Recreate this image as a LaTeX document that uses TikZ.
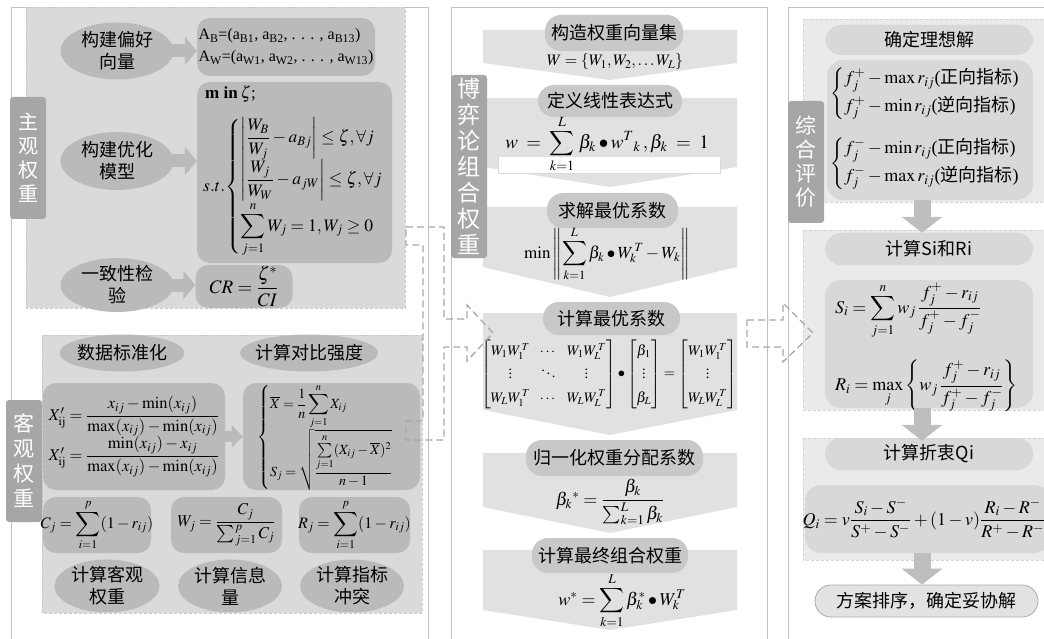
\documentclass[tikz,border=0pt]{standalone}
\usepackage{amsmath}
\usepackage{mathptmx}
\usepackage{fontspec}
\setmainfont{Liberation Serif}
\newfontfamily\cjk{Noto Sans CJK SC}
\usetikzlibrary{shapes.geometric,arrows.meta,calc}
% scalable extension font so that display operators grow
\DeclareSymbolFont{largesymbols}{OMX}{lmex}{m}{n}
\let\sum\relax
\DeclareMathSymbol{\sum}{\mathop}{largesymbols}{"50}

\definecolor{frameC}{RGB}{192,192,192}
\definecolor{regL}{RGB}{218,218,218}
\definecolor{regLb}{RGB}{200,200,200}
\definecolor{regR}{RGB}{234,234,234}
\definecolor{regRb}{RGB}{212,212,212}
\definecolor{shp}{RGB}{186,186,186}
\definecolor{lab}{RGB}{166,166,166}
\definecolor{chev}{RGB}{225,225,225}
\definecolor{pillM}{RGB}{200,200,200}
\definecolor{pillR}{RGB}{216,216,216}
\definecolor{varr}{RGB}{190,190,190}
\definecolor{endF}{RGB}{226,226,226}
\definecolor{endB}{RGB}{170,170,170}
\definecolor{dashc}{RGB}{168,168,168}

\newcommand\fsz[2]{\fontsize{#1}{#2}\selectfont}

\begin{document}
\begin{tikzpicture}[x=1pt,y=-1pt,
  panel/.style={draw=frameC, line width=0.8pt},
  regionA/.style={fill=regL, draw=regLb, dash pattern=on 3pt off 2pt, line width=0.6pt},
  regionB/.style={fill=regR, draw=regRb, dash pattern=on 3pt off 2pt, line width=0.6pt},
  vlabel/.style={fill=lab, rounded corners=3pt, text=white, align=center, inner sep=0pt, minimum width=36pt},
  ell/.style={ellipse, fill=shp, inner sep=0pt},
  cjktxt/.style={font=\cjk\fsz{18}{22}, align=center, inner sep=0pt},
  fbox/.style={fill=shp, rounded corners=13pt, inner sep=0pt},
  harrow/.style={draw=shp, line width=13pt, -{Triangle[width=28pt,length=12pt]}},
  harrowS/.style={draw=shp, line width=11pt, -{Triangle[width=22pt,length=11pt]}},
  varrow/.style={draw=varr, line width=17pt, -{Triangle[width=40pt,length=16pt]}},
  chevron/.style={fill=chev},
  mpill/.style={fill=pillM, rounded corners=16pt, inner sep=0pt, font=\cjk\fsz{18}{22}},
  rpill/.style={fill=pillR, rounded corners=16pt, inner sep=0pt, font=\cjk\fsz{18}{22}},
  rbox/.style={fill=pillR, rounded corners=16pt, inner sep=0pt},
  mth/.style={inner sep=0pt, align=center},
  link/.style={draw=dashc, line width=1.3pt, dash pattern=on 7pt off 4pt},
]
\useasboundingbox (0,0) rectangle (1044,639);

% ---------- panel frames ----------
\draw[panel] (11,660) -- (11,7) -- (428,7) -- (428,660);
\draw[panel] (451,660) -- (451,7) -- (767,7) -- (767,660);
\draw[panel] (788,660) -- (788,7) -- (1060,7);

% ---------- subjective weights ----------
\path[regionA] (26,7) rectangle (405,308);
\node[vlabel, minimum height=122pt, font=\cjk\fsz{20}{24}] (labA) at (28,158) {主\\观\\权\\重};

\node[ell, minimum width=113pt, minimum height=57pt] (eA) at (117,51) {};
\node[cjktxt] at (eA) {构建偏好\\向量};
\node[fbox, minimum width=178pt, minimum height=58pt] (bA) at (286,47) {};
\node[mth, align=left, font=\fsz{16}{22}] at (bA) {A\textsubscript{B}=(a\textsubscript{B1}, a\textsubscript{B2}, . . . , a\textsubscript{B13})\\A\textsubscript{W}=(a\textsubscript{W1}, a\textsubscript{W2}, . . . , a\textsubscript{W13})};
\draw[harrow] ($(eA.east)+(-5,0)$) -- (eA.east -| bA.west);

\node[ell, minimum width=113pt, minimum height=58pt] (eB) at (117,161) {};
\node[cjktxt] at (eB) {构建优化\\模型};
\node[fbox, minimum width=195pt, minimum height=181pt] (bB) at (294.5,172.5) {};
\node[mth, anchor=west, font=\fsz{17}{20}] at (205,94) {\textbf{m in}\,$\zeta$;};
\node[mth, anchor=west, font=\fsz{17.5}{21}] (stb) at (203,187) {$s.t.\!\left\{\begin{array}{@{}l@{}}
  \left|\dfrac{W_B}{W_j}-a_{Bj}\right|\le\zeta,\forall j\\[7pt]
  \left|\dfrac{W_j}{W_W}-a_{jW}\right|\le\zeta,\forall j\\[11pt]
  \displaystyle\sum_{j=1}^{n}W_j=1,W_j\ge 0
\end{array}\right.$};
\draw[harrow] ($(eB.east)+(-5,0)$) -- (eB.east -| bB.west);

\node[ell, minimum width=113pt, minimum height=54pt] (eC) at (117,285) {};
\node[cjktxt] at (eC) {一致性检\\验};
\node[fbox, minimum width=97pt, minimum height=43pt] (bC) at (244,286.5) {};
\node[mth, font=\fsz{19}{22}] at (bC) {$CR=\dfrac{\zeta^{*}}{CI}$};
\draw[harrow] ($(eC.east)+(-5,0)$) -- (eC.east -| bC.west);

% ---------- objective weights ----------
\path[regionA] (42,335) rectangle (422,613);
\node[vlabel, minimum height=122pt, font=\cjk\fsz{21}{25}] (labB) at (24,461) {客\\观\\权\\重};

\node[ell, minimum width=125pt, minimum height=37pt] (eD) at (122,353) {};
\node[cjktxt] at (eD) {数据标准化};
\node[ell, minimum width=138pt, minimum height=37pt] (eE) at (309,353) {};
\node[cjktxt] at (eE) {计算对比强度};

\node[fbox, minimum width=182pt, minimum height=107pt] (bD) at (134,436.5) {};
\node[mth, font=\fsz{16.5}{20}] at (bD) {$\begin{array}{@{}l@{}}
  X'_{\mathrm{ij}}=\dfrac{x_{ij}-\min(x_{ij})}{\max(x_{ij})-\min(x_{ij})}\\[10pt]
  X'_{\mathrm{ij}}=\dfrac{\min(x_{ij})-x_{ij}}{\max(x_{ij})-\min(x_{ij})}
\end{array}$};
\node[fbox, minimum width=177pt, minimum height=107pt] (bE) at (331.5,436.5) {};
\node[mth, font=\fsz{14}{17}] at ($(bE)+(-6,1)$) {$\left\{\begin{array}{@{}l@{}}
  \overline{X}=\dfrac{1}{n}\displaystyle\sum_{j=1}^{n}X_{ij}\\[6pt]
  S_j=\sqrt{\dfrac{\sum\limits_{j=1}^{n}(X_{ij}-\overline{X})^{2}}{n-1}}
\end{array}\right.$};
\draw[harrowS] (bD.east) -- (bE.west);

\node[fbox, minimum width=108pt, minimum height=56pt] (bF) at (97,525) {};
\node[mth, font=\fsz{16}{20}] at (bF) {$C_j=\displaystyle\sum_{i=1}^{p}(1-r_{ij})$};
\node[fbox, minimum width=111pt, minimum height=56pt] (bG) at (226.5,525) {};
\node[mth, font=\fsz{16.5}{20}] at (bG) {$W_j=\dfrac{C_j}{\sum_{j=1}^{p}C_j}$};
\node[fbox, minimum width=111pt, minimum height=56pt] (bH) at (354.5,525) {};
\node[mth, font=\fsz{16}{20}] at (bH) {$R_j=\displaystyle\sum_{i=1}^{p}(1-r_{ij})$};

\node[ell, minimum width=105pt, minimum height=53pt] (eF) at (107,586) {};
\node[cjktxt] at (eF) {计算客观\\权重};
\node[ell, minimum width=104pt, minimum height=53pt] (eG) at (230,586) {};
\node[cjktxt] at (eG) {计算信息\\量};
\node[ell, minimum width=104pt, minimum height=53pt] (eH) at (352,586) {};
\node[cjktxt] at (eH) {计算指标\\冲突};

% ---------- game-theory combination ----------
\fill[chevron] (483,30) -- (737,30) -- (737,63) -- (610,80) -- (483,63) -- cycle;
\fill[chevron] (483,98) -- (737,98) -- (737,167) -- (610,187) -- (483,167) -- cycle;
\fill[white] (498,157) rectangle (720,173);
\draw[frameC!60, line width=0.5pt] (498,157) -- (498,173) -- (720,173) -- (720,157);
\fill[chevron] (483,207) -- (737,207) -- (737,267) -- (610,297) -- (483,267) -- cycle;
\fill[chevron] (483,313) -- (737,313) -- (737,410) -- (610,435) -- (483,410) -- cycle;
\fill[chevron] (483,453) -- (737,453) -- (737,507) -- (610,533) -- (483,507) -- cycle;
\fill[chevron] (483,550) -- (737,550) -- (737,610) -- (610,630) -- (483,610) -- cycle;

\node[vlabel, minimum height=183pt, font=\cjk\fsz{23}{26}] (labC) at (469,166.5) {博\\弈\\论\\组\\合\\权\\重};

\node[mpill, minimum width=138pt, minimum height=36pt] (m1) at (614,33) {构造权重向量集};
\node[mth, font=\fsz{16}{20}] at (615,62) {$W=\{W_1,W_2,\ldots W_L\}$};
\node[mpill, minimum width=144pt, minimum height=32pt] (m2) at (610,101) {定义线性表达式};
\node[mth, font=\fsz{19}{24}] at (607,144) {$\displaystyle w\;=\;\sum_{k=1}^{L}\,\beta_k\bullet w^{T}{}_{k}\,,\beta_k\;=\;1$};
\node[mpill, minimum width=131pt, minimum height=35pt] (m3) at (612.5,210.5) {求解最优系数};
\node[mth, font=\fsz{17}{22}] at (607,254) {$\displaystyle\min\left\|\sum_{k=1}^{L}\beta_k\bullet W_k^{\,T}-W_k\right\|$};
\node[mpill, minimum width=137pt, minimum height=33pt] (m4) at (611.5,318.5) {计算最优系数};
\node[mth, font=\fsz{14.5}{18}] at (609,374) {\renewcommand\arraystretch{1.3}$\begin{bmatrix} W_1W_1^{\,T} & \cdots & W_1W_L^{\,T}\\ \vdots & \ddots & \vdots\\ W_LW_1^{\,T} & \cdots & W_LW_L^{\,T}\end{bmatrix}\bullet\begin{bmatrix}\beta_1\\ \vdots\\ \beta_L\end{bmatrix}=\begin{bmatrix}W_1W_1^{\,T}\\ \vdots\\ W_LW_L^{\,T}\end{bmatrix}$};
\node[mpill, minimum width=177pt, minimum height=36pt] (m5) at (614.5,458) {归一化权重分配系数};
\node[mth, font=\fsz{18}{22}] at (610,502) {$\beta_k{}^{*}=\dfrac{\beta_k}{\sum_{k=1}^{L}\beta_k}$};
\node[mpill, minimum width=156pt, minimum height=35pt] (m6) at (610,555.5) {计算最终组合权重};
\node[mth, font=\fsz{18}{22}] at (622,601) {$\displaystyle w^{*}=\sum_{k=1}^{L}\beta_k^{*}\bullet W_k^{T}$};

% ---------- comprehensive evaluation ----------
\path[regionB] (803,19) rectangle (1060,202);
\path[regionB] (803,230) rectangle (1060,410);
\path[regionB] (803,438) rectangle (1060,560);
\node[vlabel, minimum height=122pt, font=\cjk\fsz{21}{24}] (labD) at (806,162) {综\\合\\评\\价};

\coordinate (ax) at (922,0);
\node[rpill, minimum width=208pt, minimum height=30pt] (r1) at (929,40) {确定理想解};
\node[rbox, minimum width=206pt, minimum height=140pt] (rb1) at (930,130) {};
\node[mth, anchor=west, font=\fsz{18}{21}] at (830,94) {$\left\{\begin{array}{@{}l@{}}
  f_j^{+}-\max r_{ij}\text{({\cjk 正向指标})}\\[6pt]
  f_j^{+}-\min r_{ij}\text{({\cjk 逆向指标})}
\end{array}\right.$};
\node[mth, anchor=west, font=\fsz{18}{21}] at (830,164) {$\left\{\begin{array}{@{}l@{}}
  f_j^{-}-\min r_{ij}\text{({\cjk 正向指标})}\\[6pt]
  f_j^{-}-\max r_{ij}\text{({\cjk 逆向指标})}
\end{array}\right.$};

\node[rpill, minimum width=208pt, minimum height=32pt] (r2) at (929,249) {计算Si和Ri};
\node[rbox, minimum width=208pt, minimum height=128pt] (rb2) at (929,344) {};
\node[mth, anchor=west, font=\fsz{18}{22}] at (835,311) {$\displaystyle S_i=\sum_{j=1}^{n}w_j\,\frac{f_j^{+}-r_{ij}}{f_j^{+}-f_j^{-}}$};
\node[mth, anchor=west, font=\fsz{18}{22}] at (835,386) {$\displaystyle R_i=\max_{j}\left\{w_j\,\frac{f_j^{+}-r_{ij}}{f_j^{+}-f_j^{-}}\right\}$};

\node[rpill, minimum width=208pt, minimum height=32pt] (r3) at (929,454) {计算折衷Qi};
\node[rbox, minimum width=245pt, minimum height=68pt] (rb3) at (927.5,519) {};
\node[mth, font=\fsz{18}{22}] at (924,519) {$Q_i=v\dfrac{S_i-S^{-}}{S^{+}-S^{-}}+(1-v)\dfrac{R_i-R^{-}}{R^{+}-R^{-}}$};

\node[rpill, fill=endF, draw=endB, line width=0.8pt, minimum width=223pt, minimum height=32pt] (r4) at (926.5,601) {方案排序，确定妥协解};

\draw[varrow] (rb1.south -| ax) -- (r2.north -| ax);
\draw[varrow] (rb2.south -| ax) -- ($(r3.north -| ax)+(0,3)$);
\draw[varrow] (rb3.south -| ax) -- (r4.north -| ax);

% ---------- hand-over links between stages ----------
\draw[link] (406,227) -- (444,227) -- (444,319) -- (467,319) -- (467,305) -- (493,333)
  -- (467,361) -- (467,347) -- (444,347) -- (444,440) -- (406,440) -- (406,421)
  -- (423,421) -- (423,245) -- (406,245) -- cycle;
\draw[link] (747,320) -- (783,320) -- (783,303) -- (813,333) -- (783,362) -- (783,347)
  -- (747,347) -- cycle;
\end{tikzpicture}
\end{document}
